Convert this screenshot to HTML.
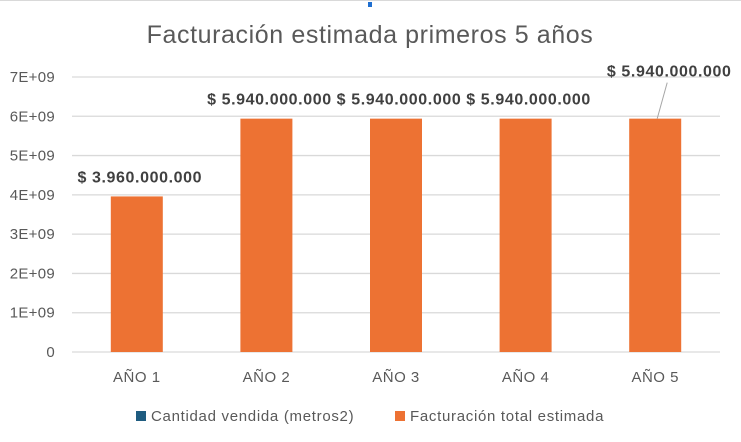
<!DOCTYPE html>
<html><head><meta charset="utf-8"><style>
body{margin:0;background:#fff;}
svg{display:block;font-family:"Liberation Sans",sans-serif;}
</style></head><body>
<svg id="c" width="741" height="442">
<line x1="0" y1="0.5" x2="741" y2="0.5" stroke="#d9d9d9"/>
<rect x="368" y="2" width="4" height="5" fill="#1f6fd0"/>
<text x="370" y="43" text-anchor="middle" font-size="25" letter-spacing="0.6" fill="#595959">Facturación estimada primeros 5 años</text>
<g id="grid"></g><g id="bars"></g><g id="labels"></g>
<g>
<rect x="136" y="411" width="10" height="10" fill="#1f5c80"/>
<text x="151" y="421" font-size="15" letter-spacing="0.7" fill="#595959">Cantidad vendida (metros2)</text>
<rect x="395" y="411" width="10" height="10" fill="#ed7233"/>
<text x="410" y="421" font-size="15" letter-spacing="0.7" fill="#595959">Facturación total estimada</text>
</g>
</svg>
<script>
const categories=["AÑO 1","AÑO 2","AÑO 3","AÑO 4","AÑO 5"];
const facturacion=[3960000000,5940000000,5940000000,5940000000,5940000000];
const valueLabels=["$ 3.960.000.000","$ 5.940.000.000","$ 5.940.000.000","$ 5.940.000.000","$ 5.940.000.000"];
const yTicks=[0,1e9,2e9,3e9,4e9,5e9,6e9,7e9];
const yTickLabels=["0","1E+09","2E+09","3E+09","4E+09","5E+09","6E+09","7E+09"];
const NS="http://www.w3.org/2000/svg";
const x0=72,x1=720,yBase=352,yTop=77,yMax=7e9;
const y=v=>yBase-(v/yMax)*(yBase-yTop);
const band=(x1-x0)/categories.length;
const xc=i=>x0+band*(i+0.5);
function mk(t,a,p){const e=document.createElementNS(NS,t);for(const k in a)e.setAttribute(k,a[k]);p.appendChild(e);return e;}
const g=document.getElementById('grid'),b=document.getElementById('bars'),l=document.getElementById('labels');
yTicks.forEach((v,i)=>{
 const ln=mk('line',{x1:x0,x2:x1,y1:y(v),y2:y(v),stroke:'#d9d9d9','stroke-width':1.3},g);
 
 
 const t=mk('text',{x:55,y:y(v)+5,'text-anchor':'end','font-size':15,'letter-spacing':0.3,fill:'#595959'},g);
 t.textContent=yTickLabels[i];
 
 
});
categories.forEach((c,i)=>{
 const w=52;
 const r=mk('rect',{x:xc(i)-w/2,y:y(facturacion[i]),width:w,height:yBase-y(facturacion[i]),fill:'#ed7233'},b);
 
 
 const t=mk('text',{x:xc(i),y:yBase+30,'text-anchor':'middle','font-size':15,'letter-spacing':0.5,fill:'#595959'},g);
 t.textContent=c;
 
 
 let lx=xc(i)+3,ly=y(facturacion[i])-14;
 if(i===4){lx=xc(i)+14;ly=y(facturacion[i])-42;
  const ld=mk('line',{x1:xc(i)+12,y1:ly+6,x2:xc(i)+2,y2:y(facturacion[i]),stroke:'#a6a6a6'},l);
  
  }
 const vl=mk('text',{x:lx,y:ly,'text-anchor':'middle','font-size':16,'letter-spacing':0.6,'font-weight':'bold',fill:'#404040'},l);
 vl.textContent=valueLabels[i];
 
 
});
</script>
</body></html>
